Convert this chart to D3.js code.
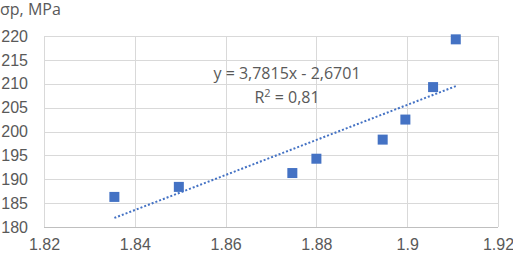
<!DOCTYPE html>
<html>
<head>
  <meta charset="utf-8">
  <style>
    body { margin: 0; padding: 0; background: white; font-family: "Open Sans", sans-serif; }
    .grid line { stroke: #d9d9d9; stroke-width: 1; }
    .tick text { fill: #595959; font-size: 16px; }
    .label { fill: #595959; font-size: 16px; }
  </style>
</head>
<body>
  <div id="chart"></div>
  <script src="https://d3js.org/d3.v7.min.js"></script>
  <script>
    // measured points (density vs strength)
    var xValues = [1.8355, 1.8497, 1.8747, 1.880, 1.8946, 1.8996, 1.9057, 1.9107]
    var yValues = [186.3, 188.4, 191.3, 194.3, 198.3, 202.5, 209.3, 219.3]
    var xTicks = [1.82, 1.84, 1.86, 1.88, 1.9, 1.92]
    var yTicks = [180, 185, 190, 195, 200, 205, 210, 215, 220]
    var yTitle = "σр, MPa"
    var equation = "y = 3,7815x - 2,6701"
    var rSquared = "0,81"

    var width = 513, height = 255
    var margin = { top: 36, right: 15, bottom: 28, left: 44 }

    var svg = d3.select("#chart").append("svg")
      .attr("width", width)
      .attr("height", height)

    var x = d3.scaleLinear().domain([1.82, 1.92]).range([margin.left, width - margin.right])
    var y = d3.scaleLinear().domain([180, 220]).range([height - margin.bottom, margin.top])

    // grid
    var grid = svg.append("g").attr("class", "grid")
    grid.selectAll(".h").data(yTicks).enter().append("line")
      .attr("x1", x(1.82)).attr("x2", x(1.92))
      .attr("y1", function(d) { return Math.round(y(d)) + 0.5 })
      .attr("y2", function(d) { return Math.round(y(d)) + 0.5 })
      .style("stroke", function(d) { return d === 180 ? "#bfbfbf" : null })
    grid.selectAll(".v").data(xTicks).enter().append("line")
      .attr("y1", y(180)).attr("y2", y(220))
      .attr("x1", function(d) { return Math.round(x(d)) + 0.5 })
      .attr("x2", function(d) { return Math.round(x(d)) + 0.5 })

    // axes (labels only)
    var yAxis = svg.append("g")
      .attr("transform", "translate(" + (margin.left - 16) + ",0)")
      .call(d3.axisLeft(y).tickValues(yTicks).tickSize(0).tickPadding(0))
    yAxis.select(".domain").remove()

    var xAxis = svg.append("g")
      .attr("transform", "translate(0," + (height - margin.bottom + 12) + ")")
      .call(d3.axisBottom(x).tickValues(xTicks).tickSize(0).tickPadding(0).tickFormat(d3.format("")))
    xAxis.select(".domain").remove()

    svg.append("text").attr("class", "label")
      .attr("x", 0).attr("y", 15)
      .text(yTitle)

    // linear trendline from least squares
    var n = xValues.length
    var mx = d3.mean(xValues), my = d3.mean(yValues)
    var sxy = 0, sxx = 0
    for (var i = 0; i < n; i++) {
      sxy += (xValues[i] - mx) * (yValues[i] - my)
      sxx += (xValues[i] - mx) * (xValues[i] - mx)
    }
    var slope = sxy / sxx, icpt = my - slope * mx
    var x0 = d3.min(xValues), x1 = d3.max(xValues)

    svg.append("line")
      .attr("x1", x(x0)).attr("y1", y(slope * x0 + icpt))
      .attr("x2", x(x1)).attr("y2", y(slope * x1 + icpt))
      .attr("stroke", "#4472c4")
      .attr("stroke-width", 2)
      .attr("stroke-dasharray", "2,2")

    // markers
    svg.append("g").selectAll("rect")
      .data(xValues).enter().append("rect")
      .attr("x", function(d) { return x(d) - 5 })
      .attr("y", function(d, i) { return y(yValues[i]) - 5 })
      .attr("width", 10).attr("height", 10)
      .attr("fill", "#4472c4")

    // equation label
    svg.append("text").attr("class", "label")
      .attr("x", 287).attr("y", 79).attr("text-anchor", "middle")
      .text(equation)
    var r2 = svg.append("text").attr("class", "label")
      .attr("x", 287).attr("y", 103).attr("text-anchor", "middle")
    r2.append("tspan").text("R")
    r2.append("tspan").attr("dy", -6).style("font-size", "11px").text("2")
    r2.append("tspan").attr("dy", 6).text(" = " + rSquared)
  </script>
</body>
</html>
